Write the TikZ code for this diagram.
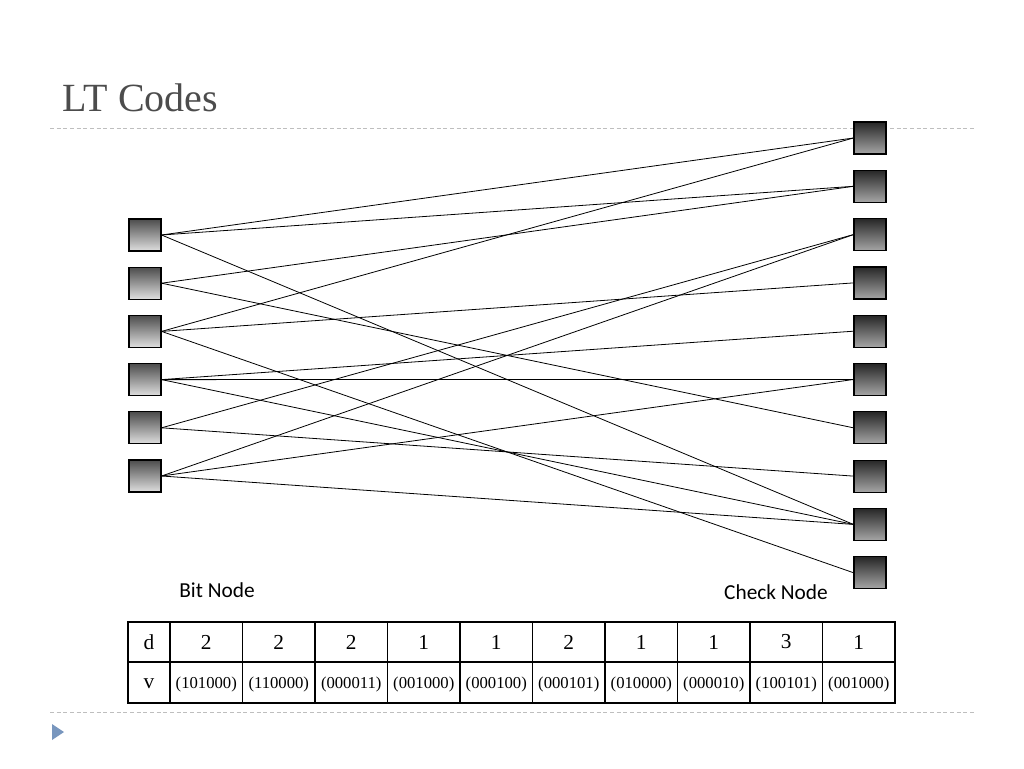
\documentclass[tikz,border=0pt]{standalone}
\usepackage{fontspec}
\setmainfont{Liberation Serif}
\newfontfamily\labelfont{Carlito}
\tikzset{every picture/.style={line width=0.75pt}}
\tikzset{
  cnode/.style={draw=black, minimum size=24pt, inner sep=0pt, line width=0.9pt,
    top color=gray!90!black, bottom color=white!80!gray, shading angle=45},
  bnode/.style={cnode, shading angle=-45, top color=gray!60!black, bottom color=gray!25},
  chk/.style={cnode, top color=black!85, bottom color=gray!70},
  edge/.style={line width=0.6pt},
  rule/.style={color={rgb, 255:red, 190; green, 190; blue, 190}, dash pattern={on 3pt off 2pt}, line width=0.6pt}
}
\begin{document}
\begin{tikzpicture}[x=0.75pt,y=0.75pt,yscale=-1,xscale=1]
\useasboundingbox (0,0) rectangle (1024,768);

% Title and rules
\node (title) [anchor=west, text=black!70, font=\fontsize{30}{30}\selectfont] at (58,98) {LT Codes};
\draw [rule] (50,128) -- (975,128) ;
\draw [rule] (50,712) -- (975,712) ;
\fill [color={rgb, 255:red, 120; green, 150; blue, 190}] (52,724) -- (64,732) -- (52,740) -- cycle ;

% Bit nodes
\foreach \i in {1,...,6}
  \node (b\i) [bnode] at (145,{235+48.2*(\i-1)}) {};
% Check nodes
\foreach \i in {1,...,10}
  \node (c\i) [chk] at (870,{138+48.3*(\i-1)}) {};

% Edges
\foreach \c/\b in {1/1,1/3,2/1,2/2,3/5,3/6,4/3,5/4,6/4,6/6,7/2,8/5,9/1,9/4,9/6,10/3}
  \draw [edge] (b\b.east) -- (c\c.west) ;

% Labels
\node (bitlab) [font=\labelfont\fontsize{16}{16}\selectfont] at (217,590) {Bit Node};
\node (chklab) [font=\labelfont\fontsize{16}{16}\selectfont] at (776,592) {Check Node};

% Table
\draw [line width=1pt] (128,622) rectangle (895,703) ;
\draw [line width=1pt] (128,662) -- (895,662) ;
\foreach \x in {170,242.5,315,387.5,460,532.5,605,677.5,750,822.5}
  \draw [line width=1pt] (\x,622) -- (\x,703) ;
\node (dlab) [font=\fontsize{16}{16}\selectfont] at (149,642) {d};
\node (vlab) [font=\fontsize{16}{16}\selectfont] at (149,684) {v};
\foreach \d/\v [count=\k] in {2/101000,2/110000,2/000011,1/001000,1/000100,2/000101,1/010000,1/000010,3/100101,1/001000}{
  \node (d\k) [font=\fontsize{16}{16}\selectfont] at ({170+72.5*(\k-0.5)},642) {\d};
  \node (v\k) [font=\fontsize{12.5}{12.5}\selectfont, inner sep=0pt] at ({170+72.5*(\k-0.5)},684) {(\v)};
}
\end{tikzpicture}
\end{document}
